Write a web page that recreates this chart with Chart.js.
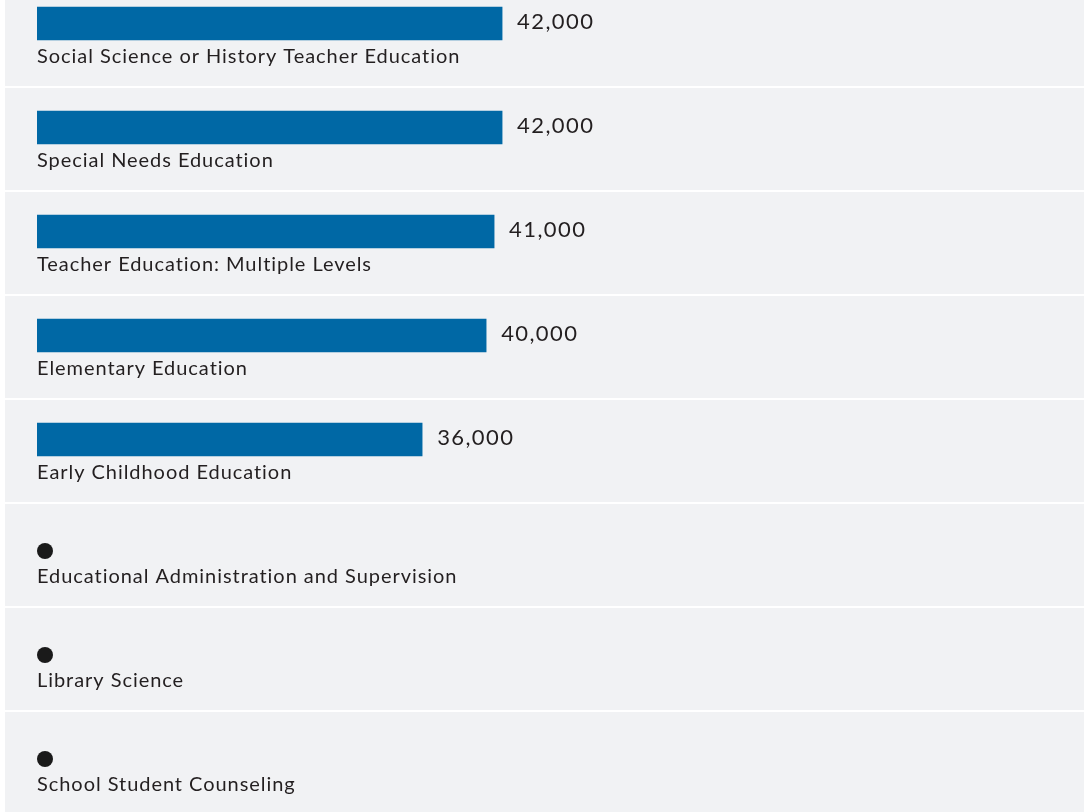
<!DOCTYPE html>
<html>
<head>
<meta charset="utf-8">
<script src="https://cdn.jsdelivr.net/npm/chart.js@4/dist/chart.umd.min.js"></script>
<style>
  html, body { margin: 0; padding: 0; background: #ffffff; overflow: hidden; width: 1084px; height: 812px; }
  #wrap { position: absolute; left: 0; top: -29px; width: 1084px; height: 850px; }
</style>
</head>
<body>
<div id="wrap"><canvas id="c" width="1084" height="850"></canvas></div>
<script>
// Categories (top to bottom)
const categories = [
  "Social Science or History Teacher Education",
  "Special Needs Education",
  "Teacher Education: Multiple Levels",
  "Elementary Education",
  "Early Childhood Education",
  "Educational Administration and Supervision",
  "Library Science",
  "School Student Counseling"
];
// Median salary estimates (labels shown rounded to the nearest thousand); null = no data
const salaries = [41550, 41550, 40980, 40410, 35840, null, null, null];
// Hidden value-axis range
const axisMin = 8340;
const axisMax = 83100;

const BAR = '#0068a5';
const ROW_BG = '#f1f2f4';
const TEXT = '#231f20';

function fmt(v) {
  return (Math.round(v / 1000) * 1000).toLocaleString('en-US');
}

const rowPlugin = {
  id: 'rows',
  beforeDatasetsDraw(chart) {
    const ctx = chart.ctx, y = chart.scales.y;
    ctx.save();
    ctx.fillStyle = ROW_BG;
    categories.forEach((c, i) => {
      const cy = y.getPixelForValue(i);
      ctx.fillRect(5, cy - 39.5, chart.width - 5, 102);
    });
    ctx.restore();
  },
  afterDatasetsDraw(chart) {
    const ctx = chart.ctx, x = chart.scales.x, y = chart.scales.y;
    ctx.save();
    categories.forEach((c, i) => {
      const cy = y.getPixelForValue(i);
      const left = chart.chartArea.left;
      // category label under the bar
      ctx.fillStyle = TEXT;
      ctx.font = '20px Lato';
      ctx.textAlign = 'left';
      ctx.textBaseline = 'alphabetic';
      ctx.letterSpacing = '0.95px';
      ctx.fillText(c, left, cy + 39);
      const v = salaries[i];
      if (v == null) {
        ctx.beginPath();
        ctx.arc(left + 8, cy + 7.5, 8, 0, Math.PI * 2);
        ctx.fillStyle = '#1a1a1a';
        ctx.fill();
      } else {
        const xe = x.getPixelForValue(v);
        ctx.fillStyle = TEXT;
        ctx.font = '22px Lato';
        ctx.letterSpacing = '1.4px';
        ctx.fillText(fmt(v), xe + 15, cy + 5);
      }
    });
    ctx.restore();
  }
};

new Chart(document.getElementById('c'), {
  type: 'bar',
  data: {
    labels: categories,
    datasets: [{
      data: salaries,
      backgroundColor: BAR,
      borderWidth: 0,
      barThickness: 33
    }]
  },
  options: {
    indexAxis: 'y',
    responsive: false,
    animation: false,
    layout: { padding: { left: 37, right: 0, top: 0.5, bottom: 17.5 } },
    plugins: { legend: { display: false }, tooltip: { enabled: false } },
    scales: {
      x: { display: false, min: axisMin, max: axisMax },
      y: { display: false, offset: true }
    }
  },
  plugins: [rowPlugin]
});
</script>
</body>
</html>
